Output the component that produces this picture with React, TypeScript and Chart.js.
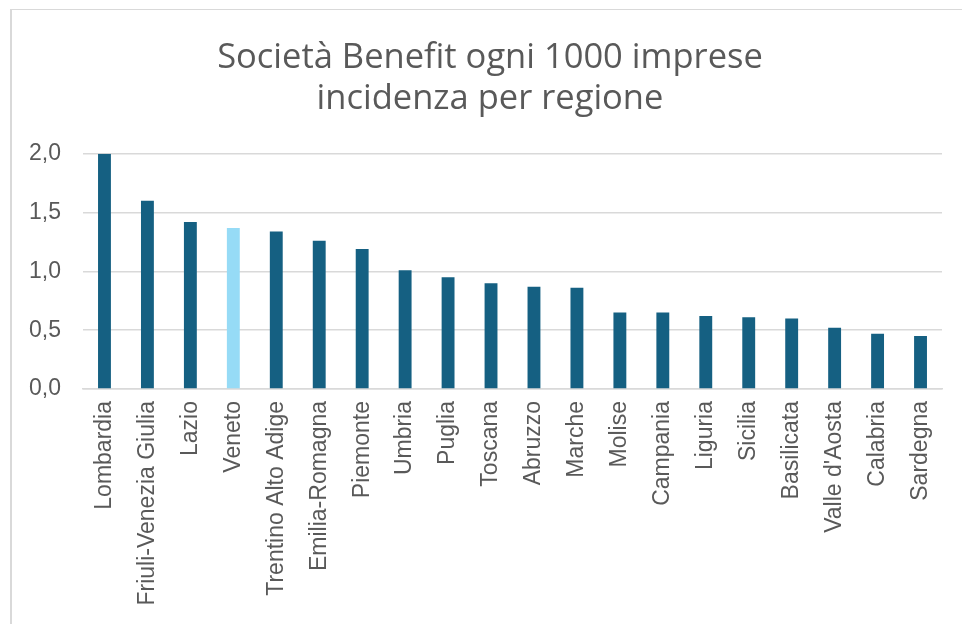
import React, { useEffect, useRef } from "react";
import { Chart, registerables } from "chart.js";

Chart.register(...registerables);

const regions: string[] = [
  "Lombardia",
  "Friuli-Venezia Giulia",
  "Lazio",
  "Veneto",
  "Trentino Alto Adige",
  "Emilia-Romagna",
  "Piemonte",
  "Umbria",
  "Puglia",
  "Toscana",
  "Abruzzo",
  "Marche",
  "Molise",
  "Campania",
  "Liguria",
  "Sicilia",
  "Basilicata",
  "Valle d'Aosta",
  "Calabria",
  "Sardegna",
];

const values: number[] = [
  2.0, 1.6, 1.42, 1.37, 1.34, 1.26, 1.19, 1.01, 0.95, 0.9, 0.87, 0.86, 0.65,
  0.65, 0.62, 0.61, 0.6, 0.52, 0.47, 0.45,
];

const highlighted: string[] = ["Veneto"];

const titleLines: string[] = ["Società Benefit ogni 1000 imprese", "incidenza per regione"];

const yTicks: number[] = [0, 0.5, 1, 1.5, 2];

const DARK = "#156082";
const LIGHT = "#96dbf6";
const TEXT = "#595959";
const GRID = "#d9d9d9";

export default function App() {
  const ref = useRef<HTMLCanvasElement | null>(null);

  useEffect(() => {
    if (!ref.current) return;
    const chart = new Chart(ref.current, {
      type: "bar",
      data: {
        labels: regions,
        datasets: [
          {
            data: values,
            backgroundColor: regions.map((r) => (highlighted.includes(r) ? LIGHT : DARK)),
            barPercentage: 0.3,
            categoryPercentage: 1,
          },
        ],
      },
      options: {
        animation: false,
        responsive: false,
        maintainAspectRatio: false,
        layout: { padding: { left: 15, right: 9, top: 27, bottom: 0 } },
        plugins: {
          legend: { display: false },
          tooltip: { enabled: false },
          title: {
            display: true,
            text: titleLines,
            color: TEXT,
            font: { family: "Open Sans", size: 34.5, weight: "400", lineHeight: 1.2 },
            padding: { top: 0, bottom: 34 },
          },
        },
        scales: {
          x: {
            grid: { display: false, drawTicks: false },
            border: { display: true, color: GRID, width: 1.5 },
            ticks: {
              color: TEXT,
              font: { family: "Liberation Sans", size: 23 },
              minRotation: 90,
              maxRotation: 90,
              autoSkip: false,
              padding: 12,
            },
            afterFit: (scale: any) => {
              scale.height = 235;
            },
          },
          y: {
            min: 0,
            max: 2,
            afterBuildTicks: (scale: any) => {
              scale.ticks = yTicks.map((v) => ({ value: v }));
            },
            grid: { color: GRID, lineWidth: 1.5, drawTicks: false },
            border: { display: false },
            ticks: {
              color: TEXT,
              font: { family: "Liberation Sans", size: 23 },
              padding: 22,
              callback: (v: any) => Number(v).toFixed(1).replace(".", ","),
            },
            afterFit: (scale: any) => {
              scale.width = 56;
            },
          },
          yRight: {
            position: "right",
            display: true,
            grid: { display: false, drawTicks: false },
            border: { display: false },
            ticks: { display: false },
            afterFit: (scale: any) => {
              scale.width = 11;
            },
          },
        },
      },
    });
    return () => chart.destroy();
  }, []);

  return (
    <div style={{ position: "absolute", left: 0, top: 0, width: 962, height: 624, background: "#fff", overflow: "hidden" }}>
      <div
        style={{
          position: "absolute",
          left: 10,
          top: 9,
          width: 960,
          height: 620,
          borderTop: `1px solid ${GRID}`,
          borderLeft: `2px solid ${GRID}`,
        }}
      >
        <canvas ref={ref} width={950} height={614} style={{ display: "block" }} />
      </div>
    </div>
  );
}
